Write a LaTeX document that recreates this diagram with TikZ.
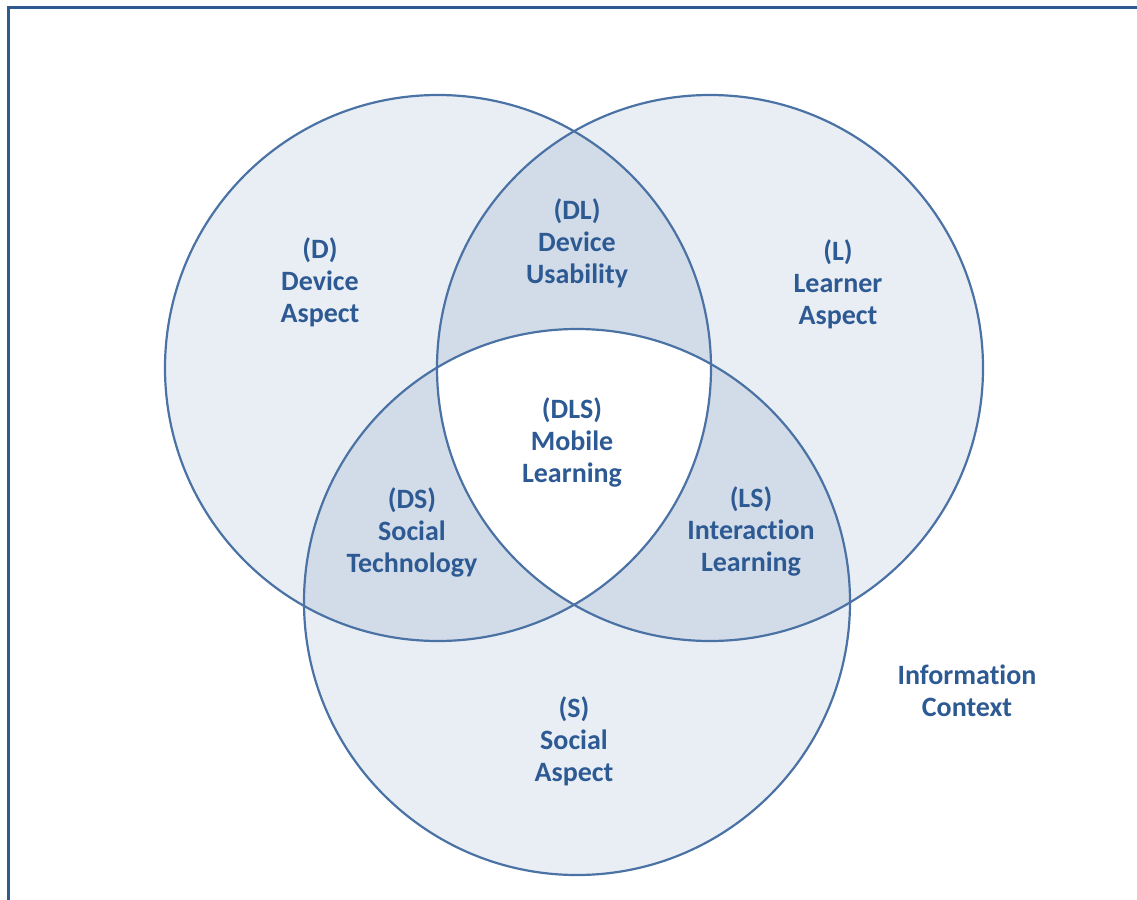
\documentclass[tikz,border=0pt]{standalone}
\usepackage{fontspec}
\setmainfont{Carlito}[Ligatures=NoCommon]
\usepackage{xcolor}
\definecolor{vline}{HTML}{4A72A4}
\definecolor{vtext}{HTML}{2E5A94}
\definecolor{vlight}{HTML}{E9EEF5}
\definecolor{vmid}{HTML}{D2DCE8}
\definecolor{vframe}{HTML}{2F5A8F}

\begin{document}
\begin{tikzpicture}[x=1pt, y=-1pt,
	lbl/.style={text = vtext, font = \fontsize{28}{32}\selectfont\bfseries, align = center}]
	\useasboundingbox (0,0) rectangle (1137,899);
	% frame
	\draw[line width = 3pt, draw = vframe] (8,8) rectangle (1170,930);
	% circle centres
	\coordinate (cD) at (438,368);
	\coordinate (cL) at (710,368);
	\coordinate (cS) at (577,602);
	% fills
	\fill[vlight] (cD) circle (273pt);
	\fill[vlight] (cL) circle (273pt);
	\fill[vlight] (cS) circle (273pt);
	\begin{scope}
		\clip (cD) circle (273pt);
		\fill[vmid] (cL) circle (273pt);
		\fill[vmid] (cS) circle (273pt);
	\end{scope}
	\begin{scope}
		\clip (cL) circle (273pt);
		\fill[vmid] (cS) circle (273pt);
	\end{scope}
	\begin{scope}
		\clip (cD) circle (273pt);
		\clip (cL) circle (273pt);
		\fill[white] (cS) circle (273pt);
	\end{scope}
	% cricles
	\draw[line width = 2.2pt, draw = vline] (cD) circle (273pt);
	\draw[line width = 2.2pt, draw = vline] (cL) circle (273pt);
	\draw[line width = 2.2pt, draw = vline] (cS) circle (273pt);
	% labels
	\node[lbl] (d) at (320,282) {(D)\\Device\\Aspect};
	\node[lbl] (l) at (838,284) {(L)\\Learner\\Aspect};
	\node[lbl] (s) at (574,741) {(S)\\Social\\Aspect};
	\node[lbl] (dl) at (577,243) {(DL)\\Device\\Usability};
	\node[lbl] (ds) at (412,532) {(DS)\\Social\\Technology};
	\node[lbl] (ls) at (751,531) {(LS)\\Interaction\\Learning};
	\node[lbl] (dls) at (572,442) {(DLS)\\Mobile\\Learning};
	\node[lbl] (info) at (967,691) {Information\\Context};
\end{tikzpicture}
\end{document}
